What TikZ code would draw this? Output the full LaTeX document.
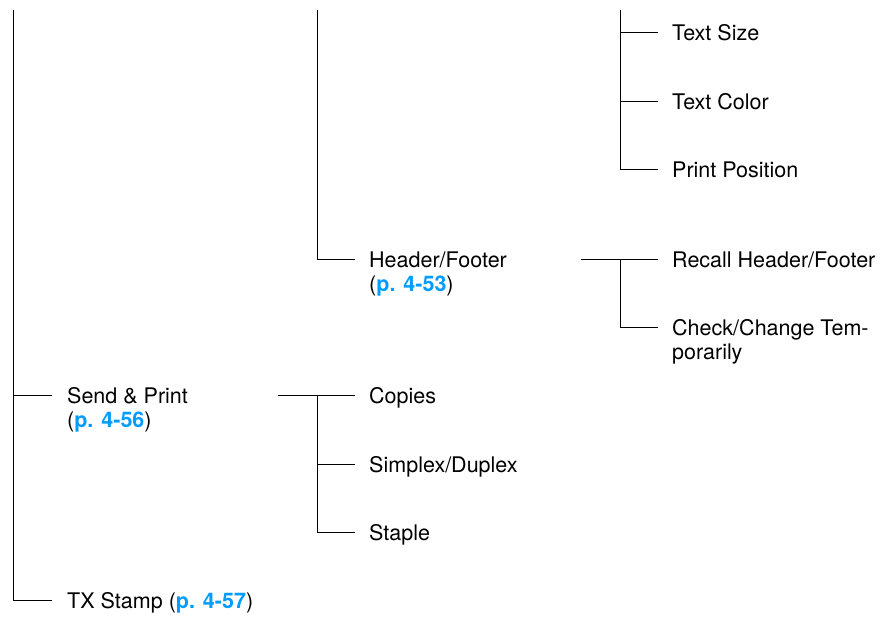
\documentclass[tikz,border=0pt]{standalone}
\usepackage{fontspec}
\setmainfont{TeX Gyre Heros}
\definecolor{linkblue}{RGB}{0,156,255}
\newcommand{\pref}[1]{\textcolor{linkblue}{\textbf{#1}}}
\begin{document}
\begin{tikzpicture}[x=1pt,y=-1pt,
  lbl/.style={anchor=base west,inner sep=0pt,font=\fontsize{21.5}{24}\selectfont},
  conn/.style={draw=black,line width=1pt}]
\useasboundingbox (0,0) rectangle (885,616);
% labels
\node[lbl] (textsize) at (672,40) {Text Size};
\node[lbl] (textcolor) at (672,109) {Text Color};
\node[lbl] (printpos) at (672,177) {Print Position};
\node[lbl] (header) at (369,267) {\begin{tabular}[t]{@{}l@{}}Header/Footer\\(\pref{p. 4-53})\end{tabular}};
\node[lbl] (recall) at (672,267) {Recall Header/Footer};
\node[lbl] (check) at (672,335) {\begin{tabular}[t]{@{}l@{}}Check/Change Tem-\\porarily\end{tabular}};
\node[lbl] (send) at (67,403) {\begin{tabular}[t]{@{}l@{}}Send \& Print\\(\pref{p. 4-56})\end{tabular}};
\node[lbl] (copies) at (369,403) {Copies};
\node[lbl] (simplex) at (369,472) {Simplex/Duplex};
\node[lbl] (staple) at (369,540) {Staple};
\node[lbl] (txstamp) at (67,608) {TX Stamp (\pref{p. 4-57})};
% coordinates
\coordinate (ltop) at (13,10);
\coordinate (mtop) at (317,10);
\coordinate (rtop) at (620,10);
\coordinate (hfout) at (581,259);
\coordinate (spout) at (278,395);
\coordinate (lbS) at (13,395);
\coordinate (lbT) at (13,600);
\coordinate (mbH) at (317,259);
\coordinate (mbC) at (317,395);
\coordinate (mbD) at (317,464);
\coordinate (mbS) at (317,532);
\coordinate (rbT) at (620,32);
\coordinate (rbC) at (620,101);
\coordinate (rbP) at (620,169);
\coordinate (rbR) at (620,259);
\coordinate (rbK) at (620,327);
% connectors
\draw[conn] (ltop) -- (lbT) -- (52,600);
\draw[conn] (lbS) -- (52,395);
\draw[conn] (mtop) -- (mbH) -- (355,259);
\draw[conn] (spout) -- (355,395);
\draw[conn] (mbC) -- (mbS) -- (355,532);
\draw[conn] (mbD) -- (355,464);
\draw[conn] (rtop) -- (rbP) -- (658,169);
\draw[conn] (rbT) -- (658,32);
\draw[conn] (rbC) -- (658,101);
\draw[conn] (hfout) -- (658,259);
\draw[conn] (rbR) -- (rbK) -- (658,327);
\end{tikzpicture}
\end{document}
